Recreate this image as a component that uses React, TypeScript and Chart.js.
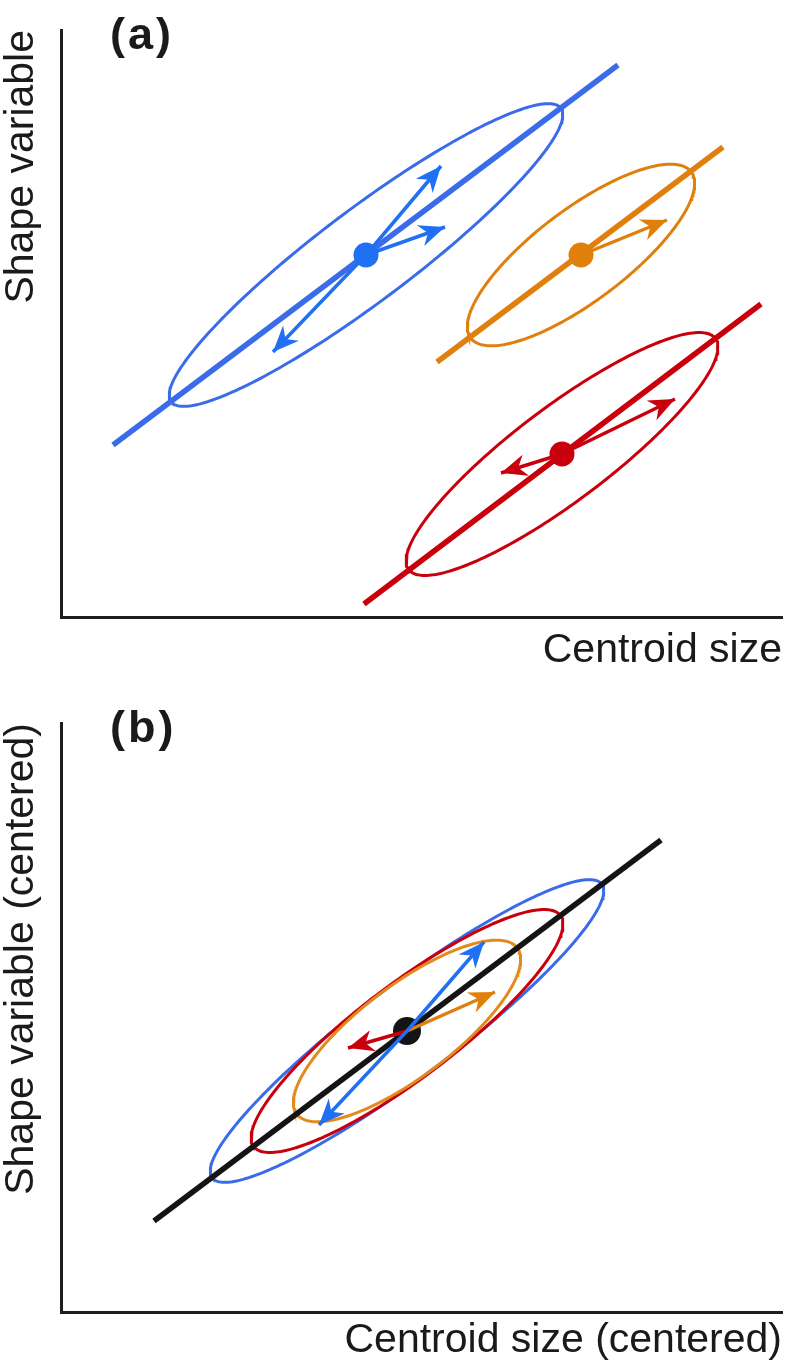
import React, { useEffect, useRef } from 'react';
import { Chart, registerables } from 'chart.js';

Chart.register(...registerables);

const FONT = '"Liberation Sans", Arial, Helvetica, sans-serif';
const TEXT = '#1a1a1a';
const AXIS = '#1e1e1e';

// ---------- shared group info ----------
const groupNames = ['blue', 'orange', 'red'];
const lineColors = ['#3a6cea', '#e07f0c', '#c9000c'];
const arrowColors = ['#1f70f2', '#e07f0c', '#c9000c'];
const ellipseColorsB = ['#3a6cea', '#e48a1c', '#c9000c'];
const semiMajor = [244, 138, 192];
const semiMinor = [46, 46, 47];
const tiltDeg = 37;

// ---------- panel (a): raw data ----------
const axisXA = [0, 721];
const axisYA = [0, 587];
const lineStartXA = [52, 376, 303];
const lineStartYA = [172, 255, 13];
const lineEndXA = [557, 662, 700];
const lineEndYA = [552, 470, 313];
const meanXA = [305, 520, 501];
const meanYA = [362, 362, 163];
const arrowTipXA = [[380, 384, 212], [606], [614, 440]];
const arrowTipYA = [[451, 390, 265], [397], [218, 144]];

// ---------- panel (b): centered data ----------
const axisXB = [-346, 375];
const axisYB = [-281, 308];
const commonLineX = [-253, 254];
const commonLineY = [-190, 191];
const grandMean = [0, 0];
const ellipseDrawOrder = [0, 2, 1]; // blue, red, orange
const arrowTipXB = [[77, -88], [88], [-59]];
const arrowTipYB = [[89, -94], [39], [-17]];

function ellipsePoints(cx: number, cy: number, a: number, b: number, deg: number, n = 240) {
  const t = (deg * Math.PI) / 180;
  const pts: { x: number; y: number }[] = [];
  for (let i = 0; i <= n; i++) {
    const s = (2 * Math.PI * i) / n;
    const u = a * Math.cos(s);
    const v = b * Math.sin(s);
    pts.push({ x: cx + u * Math.cos(t) - v * Math.sin(t), y: cy + u * Math.sin(t) + v * Math.cos(t) });
  }
  return pts;
}

const arrowHeadPlugin = {
  id: 'arrowHeads',
  afterDatasetsDraw(chart: any) {
    const ctx = chart.ctx;
    chart.data.datasets.forEach((ds: any, i: number) => {
      if (!ds.arrowHead) return;
      const meta = chart.getDatasetMeta(i);
      const pts = meta.data;
      if (!pts || pts.length < 2) return;
      const p0 = pts[0];
      const p1 = pts[pts.length - 1];
      const dx = p1.x - p0.x;
      const dy = p1.y - p0.y;
      const len = Math.hypot(dx, dy) || 1;
      const ux = dx / len, uy = dy / len;
      const nx = -uy, ny = ux;
      const L = 26, W = 11, N = 8;
      ctx.save();
      ctx.fillStyle = ds.borderColor;
      ctx.beginPath();
      ctx.moveTo(p1.x, p1.y);
      ctx.lineTo(p1.x - L * ux + W * nx, p1.y - L * uy + W * ny);
      ctx.lineTo(p1.x - (L - N) * ux, p1.y - (L - N) * uy);
      ctx.lineTo(p1.x - L * ux - W * nx, p1.y - L * uy - W * ny);
      ctx.closePath();
      ctx.fill();
      ctx.restore();
    });
  },
};

const panelLabelPlugin = {
  id: 'panelLabel',
  afterDraw(chart: any, _args: any, opts: any) {
    const { ctx, chartArea } = chart;
    ctx.save();
    ctx.font = `bold 45px ${FONT}`;
    try { (ctx as any).letterSpacing = '3px'; } catch (e) { /* ignore */ }
    ctx.fillStyle = TEXT;
    ctx.textBaseline = 'alphabetic';
    ctx.textAlign = 'left';
    ctx.fillText(opts.text, chartArea.left + opts.dx, chartArea.top + opts.dy);
    ctx.restore();
  },
};

function lineDs(data: any[], color: string, width: number, order: number, extra: any = {}) {
  return {
    data,
    showLine: true,
    borderColor: color,
    backgroundColor: color,
    borderWidth: width,
    pointRadius: 0,
    pointHoverRadius: 0,
    pointHitRadius: 0,
    tension: 0,
    fill: false,
    order,
    clip: false,
    ...extra,
  };
}

function dotDs(x: number, y: number, color: string, r: number, order: number) {
  return {
    data: [{ x, y }],
    showLine: false,
    pointRadius: r,
    pointHoverRadius: r,
    pointBorderWidth: 0,
    pointBackgroundColor: color,
    backgroundColor: color,
    borderColor: color,
    order,
    clip: false,
  };
}

function buildOptions(
  xr: number[], yr: number[], xTitle: string, yTitle: string,
  xPadTop: number, padTop: number, padBottom: number, label: string,
) {
  const titleFont = { family: FONT, size: 41, lineHeight: 1 };
  return {
    responsive: false,
    animation: false,
    events: [],
    layout: { autoPadding: false, padding: { left: 0, top: padTop, right: 4, bottom: padBottom } },
    plugins: {
      legend: { display: false },
      tooltip: { enabled: false },
      panelLabel: { text: label, dx: 49, dy: 19 },
    },
    scales: {
      x: {
        type: 'linear',
        min: xr[0],
        max: xr[1],
        grid: { display: false, drawTicks: false },
        border: { display: true, width: 3, color: AXIS },
        ticks: { display: false },
        title: {
          display: true, text: xTitle, align: 'end', color: TEXT, font: titleFont,
          padding: { top: xPadTop, bottom: 0 },
        },
      },
      y: {
        type: 'linear',
        min: yr[0],
        max: yr[1],
        grid: { display: false, drawTicks: false },
        border: { display: true, width: 3, color: AXIS },
        ticks: { display: false },
        title: {
          display: true, text: yTitle, align: 'end', color: TEXT, font: titleFont,
          padding: { top: 1.3, bottom: 18.7 },
        },
      },
    },
  };
}

function buildA() {
  const datasets: any[] = [];
  groupNames.forEach((name, g) => {
    datasets.push(lineDs(ellipsePoints(meanXA[g], meanYA[g], semiMajor[g], semiMinor[g], tiltDeg), lineColors[g], 3, 40, { label: name + ' ellipse' }));
    datasets.push(lineDs([{ x: lineStartXA[g], y: lineStartYA[g] }, { x: lineEndXA[g], y: lineEndYA[g] }], lineColors[g], 5.5, 30, { label: name + ' allometry' }));
    datasets.push({ ...dotDs(meanXA[g], meanYA[g], arrowColors[g], 12.5, 20), label: name + ' mean' });
    arrowTipXA[g].forEach((tx, k) => {
      datasets.push(lineDs([{ x: meanXA[g], y: meanYA[g] }, { x: tx, y: arrowTipYA[g][k] }], arrowColors[g], 3.5, 10, { arrowHead: true, label: name + ' vector' }));
    });
  });
  return {
    type: 'scatter',
    data: { datasets },
    options: buildOptions(axisXA, axisYA, 'Centroid size', 'Shape variable', 13.3, 30, 14.7, '(a)'),
    plugins: [arrowHeadPlugin, panelLabelPlugin],
  };
}

function buildB() {
  const datasets: any[] = [];
  ellipseDrawOrder.forEach((g, k) => {
    datasets.push(lineDs(ellipsePoints(grandMean[0], grandMean[1], semiMajor[g], semiMinor[g], tiltDeg), ellipseColorsB[g], 3, 45 - k, { label: groupNames[g] + ' ellipse' }));
  });
  datasets.push(lineDs([{ x: commonLineX[0], y: commonLineY[0] }, { x: commonLineX[1], y: commonLineY[1] }], '#141414', 5.5, 30, { label: 'common allometry' }));
  datasets.push({ ...dotDs(grandMean[0], grandMean[1], '#141414', 14, 20), label: 'grand mean' });
  groupNames.forEach((name, g) => {
    arrowTipXB[g].forEach((tx, k) => {
      datasets.push(lineDs([{ x: grandMean[0], y: grandMean[1] }, { x: tx, y: arrowTipYB[g][k] }], arrowColors[g], 3.5, 10, { arrowHead: true, label: name + ' vector' }));
    });
  });
  return {
    type: 'scatter',
    data: { datasets },
    options: buildOptions(axisXB, axisYB, 'Centroid size (centered)', 'Shape variable (centered)', 8.3, 37, 10.7, '(b)'),
    plugins: [arrowHeadPlugin, panelLabelPlugin],
  };
}

export default function App() {
  const refA = useRef<HTMLCanvasElement | null>(null);
  const refB = useRef<HTMLCanvasElement | null>(null);
  useEffect(() => {
    const ca = new Chart(refA.current as HTMLCanvasElement, buildA() as any);
    const cb = new Chart(refB.current as HTMLCanvasElement, buildB() as any);
    return () => {
      ca.destroy();
      cb.destroy();
    };
  }, []);
  return (
    <div style={{ position: 'absolute', left: 0, top: 0, width: 786, height: 1372, background: '#ffffff' }}>
      <canvas ref={refA} width={786} height={686} style={{ display: 'block', width: 786, height: 686 }} />
      <canvas ref={refB} width={786} height={686} style={{ display: 'block', width: 786, height: 686 }} />
    </div>
  );
}
